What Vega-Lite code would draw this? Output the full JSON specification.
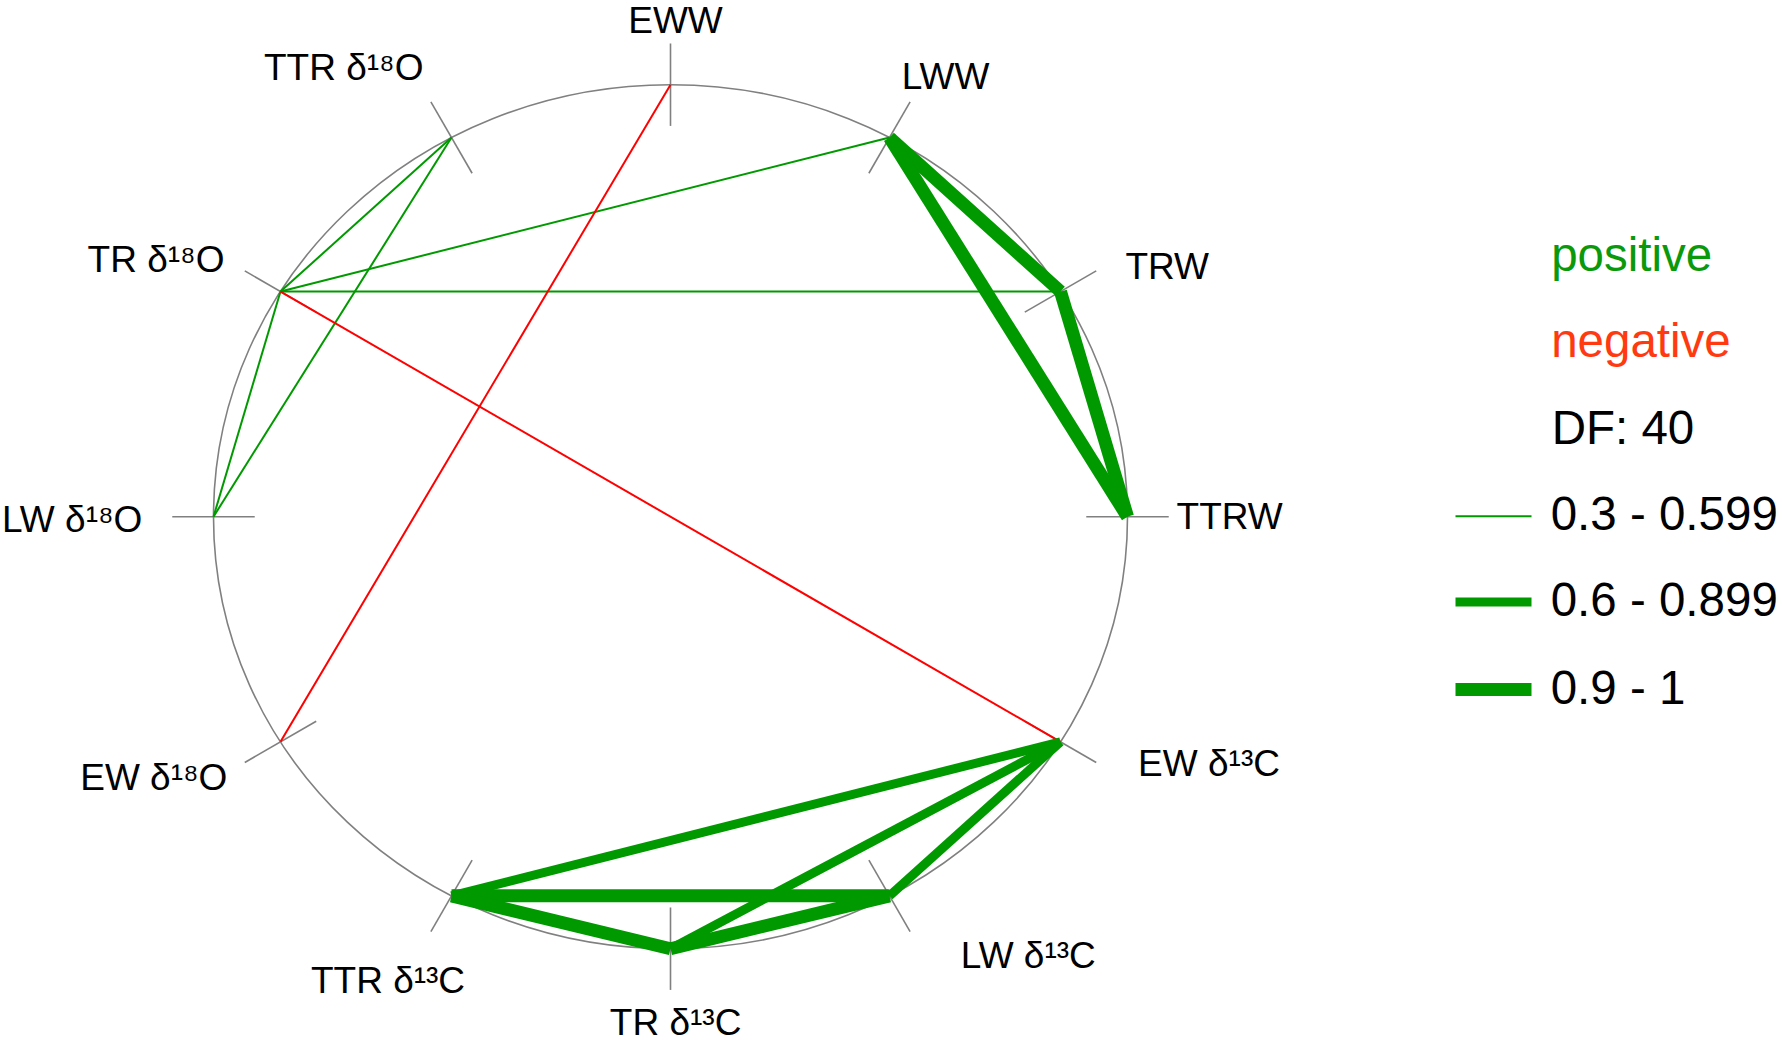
{
  "$schema": "https://vega.github.io/schema/vega-lite/v6.json",
  "width": 914,
  "height": 864,
  "autosize": {"type": "none"},
  "padding": {"left": 213.5, "top": 84.7, "right": 654.5, "bottom": 93.3},
  "background": "white",
  "config": {"view": {"stroke": null}, "font": "Liberation Sans"},
  "datasets": {
    "nodes": [
      {"node": "TTRW", "label": "TTRW", "theta": 0, "x": 1, "y": 0},
      {"node": "TRW", "label": "TRW", "theta": 30, "x": 0.8534, "y": 0.5212},
      {"node": "LWW", "label": "LWW", "theta": 60, "x": 0.4792, "y": 0.8777},
      {"node": "EWW", "label": "EWW", "theta": 90, "x": 0, "y": 1},
      {"node": "TTR d18O", "label": "TTR δ¹⁸O", "theta": 120, "x": -0.4792, "y": 0.8777},
      {"node": "TR d18O", "label": "TR δ¹⁸O", "theta": 150, "x": -0.8534, "y": 0.5212},
      {"node": "LW d18O", "label": "LW δ¹⁸O", "theta": 180, "x": -1, "y": 0},
      {"node": "EW d18O", "label": "EW δ¹⁸O", "theta": 210, "x": -0.8534, "y": -0.5212},
      {"node": "TTR d13C", "label": "TTR δ¹³C", "theta": 240, "x": -0.4792, "y": -0.8777},
      {"node": "TR d13C", "label": "TR δ¹³C", "theta": 270, "x": 0, "y": -1},
      {"node": "LW d13C", "label": "LW δ¹³C", "theta": 300, "x": 0.4792, "y": -0.8777},
      {"node": "EW d13C", "label": "EW δ¹³C", "theta": 330, "x": 0.8534, "y": -0.5212}
    ],
    "edges": [
      {"source": "TR d18O", "target": "TTR d18O", "r": 0.45, "sign": "positive"},
      {"source": "TR d18O", "target": "LWW", "r": 0.38, "sign": "positive"},
      {"source": "TR d18O", "target": "TRW", "r": 0.35, "sign": "positive"},
      {"source": "TR d18O", "target": "LW d18O", "r": 0.48, "sign": "positive"},
      {"source": "TTR d18O", "target": "LW d18O", "r": 0.41, "sign": "positive"},
      {"source": "EWW", "target": "EW d18O", "r": 0.36, "sign": "negative"},
      {"source": "TR d18O", "target": "EW d13C", "r": 0.34, "sign": "negative"},
      {"source": "EW d13C", "target": "TTR d13C", "r": 0.78, "sign": "positive"},
      {"source": "EW d13C", "target": "TR d13C", "r": 0.74, "sign": "positive"},
      {"source": "EW d13C", "target": "LW d13C", "r": 0.81, "sign": "positive"},
      {"source": "LWW", "target": "TRW", "r": 0.96, "sign": "positive"},
      {"source": "LWW", "target": "TTRW", "r": 0.93, "sign": "positive"},
      {"source": "TRW", "target": "TTRW", "r": 0.97, "sign": "positive"},
      {"source": "TTR d13C", "target": "LW d13C", "r": 0.98, "sign": "positive"},
      {"source": "TTR d13C", "target": "TR d13C", "r": 0.95, "sign": "positive"},
      {"source": "TR d13C", "target": "LW d13C", "r": 0.91, "sign": "positive"}
    ]
  },
  "layer": [
    {
      "data": {"values": [{"ring": "outline"}]},
      "mark": {
        "type": "point",
        "shape": "M1,0 C1,0.5221 0.5523,0.9453 0,0.9453 C-0.5523,0.9453 -1,0.5221 -1,0 C-1,-0.5221 -0.5523,-0.9453 0,-0.9453 C0.5523,-0.9453 1,-0.5221 1,0 Z",
        "size": 835396,
        "filled": false,
        "stroke": "#808080",
        "strokeWidth": 1.6,
        "opacity": 1
      },
      "encoding": {
        "x": {"datum": 0, "type": "quantitative", "scale": {"domain": [-1, 1], "nice": false, "zero": false}, "axis": null},
        "y": {"datum": 0, "type": "quantitative", "scale": {"domain": [-1, 1], "nice": false, "zero": false}, "axis": null}
      }
    },
    {
      "data": {"name": "nodes"},
      "mark": {"type": "point", "shape": "stroke", "size": 6800, "filled": false, "stroke": "#808080", "strokeWidth": 1.6, "opacity": 1},
      "encoding": {
        "x": {"field": "x", "type": "quantitative", "scale": {"domain": [-1, 1], "nice": false, "zero": false}, "axis": null},
        "y": {"field": "y", "type": "quantitative", "scale": {"domain": [-1, 1], "nice": false, "zero": false}, "axis": null},
        "angle": {"field": "theta", "type": "quantitative", "scale": {"domain": [0, 360], "range": [360, 0]}}
      }
    },
    {
      "data": {"name": "edges"},
      "transform": [
        {"lookup": "source", "from": {"data": {"name": "nodes"}, "key": "node", "fields": ["x", "y"]}, "as": ["sx", "sy"]},
        {"lookup": "target", "from": {"data": {"name": "nodes"}, "key": "node", "fields": ["x", "y"]}, "as": ["tx", "ty"]}
      ],
      "mark": {"type": "rule"},
      "encoding": {
        "x": {"field": "sx", "type": "quantitative", "scale": {"domain": [-1, 1], "nice": false, "zero": false}, "axis": null},
        "y": {"field": "sy", "type": "quantitative", "scale": {"domain": [-1, 1], "nice": false, "zero": false}, "axis": null},
        "x2": {"field": "tx"},
        "y2": {"field": "ty"},
        "color": {
          "field": "sign",
          "type": "nominal",
          "scale": {"domain": ["positive", "negative"], "range": ["#009900", "#ff0000"]},
          "legend": {
            "orient": "none",
            "legendX": 1247,
            "legendY": 133,
            "title": null,
            "symbolType": "stroke",
            "symbolSize": 5776,
            "symbolOpacity": 0,
            "labelFontSize": 47.5,
            "labelOffset": 12.7,
            "rowPadding": 23.2,
            "labelLimit": 500,
            "encode": {"labels": {"update": {"fill": {"signal": "datum.value === 'positive' ? '#0a990a' : '#ff3a10'"}}}}
          }
        },
        "strokeWidth": {
          "field": "r",
          "type": "quantitative",
          "scale": {"type": "threshold", "domain": [0.6, 0.9], "range": [2, 9, 13]},
          "legend": {
            "orient": "none",
            "legendX": 1235.5,
            "legendY": 321,
            "title": "DF: 40",
            "titleFontSize": 47.5,
            "titleFontWeight": "normal",
            "titleColor": "#000000",
            "titlePadding": 24,
            "titleLimit": 500,
            "symbolType": "stroke",
            "symbolSize": 5776,
            "symbolStrokeColor": "#009900",
            "labelFontSize": 47.5,
            "labelColor": "#000000",
            "labelOffset": 12.7,
            "rowPadding": 19.4,
            "labelLimit": 500,
            "labelExpr": "['0.3 - 0.599', '0.6 - 0.899', '0.9 - 1'][datum.index]",
            "encode": {"title": {"update": {"dx": {"value": 102.7}}}}
          }
        }
      }
    },
    {
      "data": {"name": "nodes"},
      "mark": {
        "type": "text",
        "fontSize": 37,
        "align": "center",
        "baseline": "middle",
        "color": "#000000",
        "dx": {"expr": "[102.2, 106.7, 56, 5, -107.8, -124.5, -141.3, -126.7, -63.5, 5.1, 138.8, 148.5][datum.theta / 30]"},
        "dy": {"expr": "[0.9, -23.4, -59.1, -62.3, -68.4, -31, 4.1, 37, 86.2, 75.1, 61.2, 23.2][datum.theta / 30]"}
      },
      "encoding": {
        "x": {"field": "x", "type": "quantitative", "scale": {"domain": [-1, 1], "nice": false, "zero": false}, "axis": null},
        "y": {"field": "y", "type": "quantitative", "scale": {"domain": [-1, 1], "nice": false, "zero": false}, "axis": null},
        "text": {"field": "label"}
      }
    }
  ]
}
